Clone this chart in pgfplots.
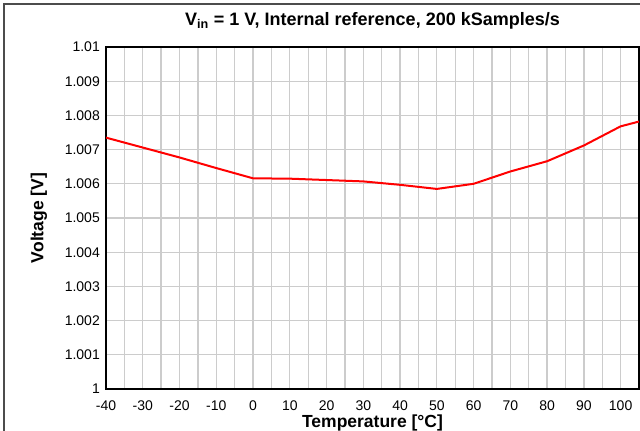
\documentclass[border=0pt]{standalone}
\usepackage{pgfplots}
\pgfplotsset{compat=1.18}
\usepackage{fontspec}
\setmainfont{Liberation Sans}
\begin{document}
\begin{tikzpicture}
\useasboundingbox (0,0) rectangle (640pt,431pt);
\draw[line width=1.2pt, black!70] (4pt,0) -- (4pt,427pt) -- (640pt,427pt);
\begin{axis}[
  at={(106pt,42pt)}, anchor=south west,
  scale only axis, width=533pt, height=342pt,
  xmin=-40, xmax=105, ymin=1, ymax=1.01,
  xtick={-40,-30,...,100},
  minor xtick={-35,-25,...,105},
  ytick={1,1.001,1.002,1.003,1.004,1.005,1.006,1.007,1.008,1.009,1.01},
  yticklabels={1,1.001,1.002,1.003,1.004,1.005,1.006,1.007,1.008,1.009,1.01},
  scaled y ticks=false,
  grid=both,
  major grid style={line width=1.3pt, gray!40},
  minor grid style={line width=1.3pt, gray!40},
  major tick length=0pt, minor tick length=0pt,
  axis line style={line width=2pt, black},
  /pgf/number format/assume math mode=true,
  tick label style={font=\fontsize{14}{15}\selectfont, inner sep=0pt},
  xticklabel style={anchor=center, yshift=-17pt},
  yticklabel style={anchor=east, xshift=-6pt},
  xlabel={\textbf{Temperature [°C]}},
  ylabel={\textbf{Voltage [V]}},
  label style={font=\fontsize{17.5}{18}\selectfont, inner sep=0pt},
  xlabel style={at={(axis description cs:0.5,0)}, anchor=center, yshift=-34pt},
  ylabel style={at={(axis description cs:0,0.5)}, anchor=center, yshift=67pt},
  title={\textbf{V\textsubscript{in} = 1 V, Internal reference, 200 kSamples/s}},
  title style={font=\fontsize{18}{19}\selectfont, at={(axis description cs:0.5,1)}, anchor=center, yshift=20pt},
  clip=true,
]
\addplot[red, line width=2pt] coordinates {
(-40,1.00735) (-30,1.00706) (-20,1.00677) (-10,1.00646) (0,1.00616)
(10,1.00615) (20,1.00611) (30,1.00607) (40,1.00597) (50,1.00585)
(60,1.00600) (70,1.00636) (80,1.00666) (90,1.00712) (100,1.00768) (105,1.00782)
};
\end{axis}
\end{tikzpicture}
\end{document}
